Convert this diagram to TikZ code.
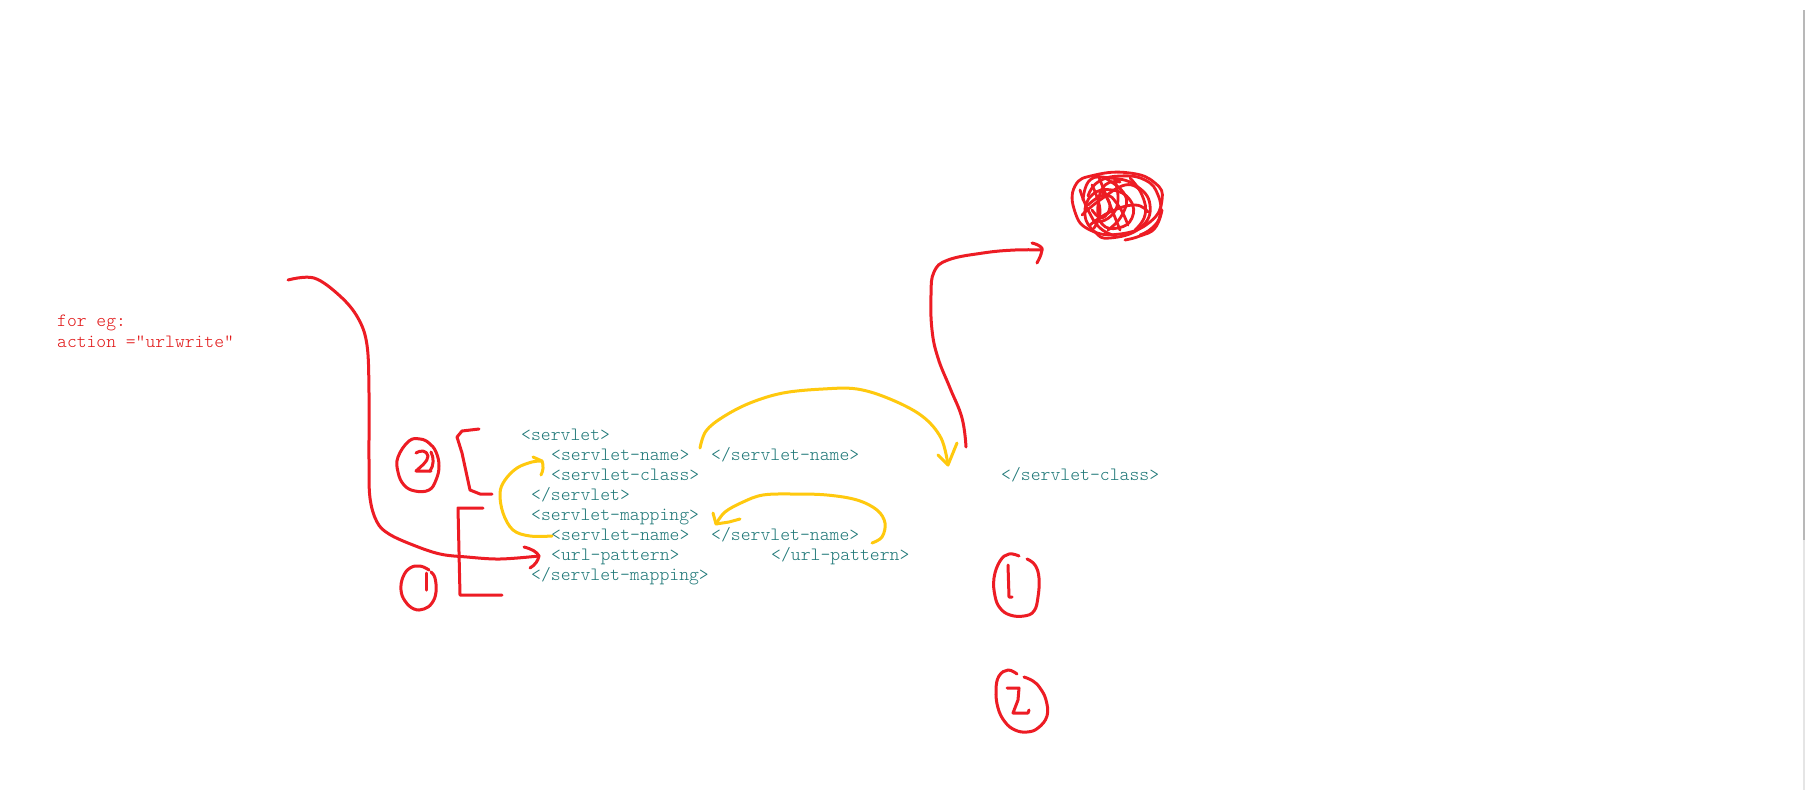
\documentclass[tikz,border=0pt]{standalone}
\usepackage{fontspec}
\newfontfamily\cour{Latin Modern Mono Light}
\definecolor{pred}{RGB}{237,28,36}
\definecolor{pyel}{RGB}{255,201,14}
\definecolor{pteal}{RGB}{28,118,118}
\definecolor{ptxtred}{RGB}{225,20,20}
\tikzset{
  code/.style={text=pteal,font=\cour\fontsize{18.8}{22}\selectfont,anchor=base west,inner sep=0pt},
  note/.style={text=ptxtred,font=\cour\fontsize{18.7}{22}\selectfont,anchor=base west,inner sep=0pt},
  redpen/.style={draw=pred,line width=3pt,line cap=round,line join=round},
  yelpen/.style={draw=pyel,line width=3pt,line cap=round,line join=round},
}
\begin{document}
\begin{tikzpicture}[x=1pt,y=-1pt]
\useasboundingbox (0,0) rectangle (1806,790);
\fill[white] (0,0) rectangle (1806,790);
% right edge grey line
\draw[black!28,line width=2pt] (1803.5,10) -- (1803.5,540);
\draw[black!10,line width=2pt] (1803.5,540) -- (1803.5,790);

% red note
\node[note] (n1) at (57,326.5) {for eg:};
\node[note] (n2) at (57,347) {action ="urlwrite"};

% code text
\node[code] (s1) at (521,440.5) {<servlet>};
\node[code] (s2) at (551,460.5) {<servlet-name>};
\node[code] (s2e) at (711,460.5) {</servlet-name>};
\node[code] (s3) at (551,480.5) {<servlet-class>};
\node[code] (s3e) at (1001,480.5) {</servlet-class>};
\node[code] (s4) at (531,500.5) {</servlet>};
\node[code] (m1) at (531,520.5) {<servlet-mapping>};
\node[code] (m2) at (551,540.5) {<servlet-name>};
\node[code] (m2e) at (711,540.5) {</servlet-name>};
\node[code] (m3) at (551,560.5) {<url-pattern>};
\node[code] (m3e) at (771,560.5) {</url-pattern>};
\node[code] (m4) at (531,580.5) {</servlet-mapping>};

% long red arrow from the note to url-pattern
\coordinate (ra0) at (288,280);
\coordinate (ra1) at (539,556);
\draw[redpen] plot[smooth,tension=0.6] coordinates {(ra0) (314,278) (340,296) (358,318) (367,345) (369,393) (369,460) (370,498) (377,522) (389,534) (413,545) (440,554) (467,557) (500,559) (ra1)};
\draw[redpen] (524,547) .. controls (532,549) and (537,552) .. (ra1) .. controls (538,561) and (535,565) .. (530,568);

% circled 2 (left)
\draw[redpen] plot[smooth cycle,tension=0.7] coordinates {(409,441) (420,439) (429,443) (436,452) (439,466) (436,480) (429,490) (415,491) (404,485) (398,472) (398,457)};
\draw[redpen] (416,453) .. controls (420,450) and (427,450) .. (428,456) .. controls (428,462) and (420,467) .. (416,471) -- (431,471);
\draw[redpen] (431,452) .. controls (434,458) and (434,465) .. (430,471);

% bracket for 2
\draw[redpen] (479,429) -- (462,431) -- (457,437) -- (462,453) -- (470,490) -- (480,494) -- (492,494);

% bracket for 1
\draw[redpen] (483,508) -- (458,508) -- (459,552) -- (460,595) -- (502,595);

% circled 1 (left)
\draw[redpen] plot[smooth,tension=0.7] coordinates {(429,570) (420,566) (410,568) (403,577) (401,590) (405,601) (414,609) (424,609) (432,603) (436,592) (435,578) (431,572)};
\draw[redpen] (426,573) -- (426,590);

% yellow big arc servlet-name -> servlet-class
\coordinate (ya0) at (700,448);
\coordinate (ya1) at (948,465);
\draw[yelpen] plot[smooth,tension=0.6] coordinates {(ya0) (706,431) (723,417) (750,403) (783,393) (823,389) (857,389) (890,399) (922,416) (941,438) (ya1)};
\draw[yelpen] (938,455) -- (ya1) -- (957,443);

% yellow left arc mapping servlet-name -> servlet servlet-name
\coordinate (yb0) at (552,536);
\coordinate (yb1) at (542,461);
\draw[yelpen] plot[smooth,tension=0.6] coordinates {(yb0) (530,536) (513,530) (503,513) (500,493) (505,480) (517,468) (532,462) (yb1)};
\draw[yelpen] (533,457) -- (yb1) .. controls (544,466) and (543,471) .. (541,475);

% yellow lower arc url-pattern -> servlet-name
\coordinate (yc0) at (872,543);
\coordinate (yc1) at (716,524);
\draw[yelpen] plot[smooth,tension=0.6] coordinates {(yc0) (882,537) (885,523) (877,510) (857,500) (827,495) (793,494) (763,495) (743,502) (725,512) (yc1)};
\draw[yelpen] (713,513) -- (yc1) -- (729,522) -- (740,519);

% red arrow up to the scribble
\coordinate (rb0) at (966,447);
\coordinate (rb1) at (1042,250);
\draw[redpen] plot[smooth,tension=0.7] coordinates {(rb0) (962,418) (950,388) (938,358) (932,330) (931,295) (934,272) (948,260) (983,253) (1015,250) (rb1)};
\draw[redpen] (1032,243) .. controls (1040,245) and (1043,248) .. (rb1) .. controls (1041,256) and (1039,259) .. (1037,263);

% scribble
\begin{scope}[redpen,line width=2.8pt]
\draw plot[smooth cycle,tension=0.8] coordinates {(1075,186) (1095,175) (1130,173) (1155,183) (1162,200) (1150,222) (1120,234) (1090,230) (1075,212)};
\draw plot[smooth,tension=0.8] coordinates {(1083,200) (1090,180) (1110,178) (1135,185) (1150,205) (1140,228) (1110,238) (1095,232) (1085,215) (1092,195) (1112,190) (1130,200) (1132,218) (1118,228) (1102,224) (1098,205) (1105,185) (1120,182)};
\draw plot[smooth,tension=0.8] coordinates {(1140,235) (1152,228) (1160,215) (1158,195) (1145,180) (1120,176) (1098,182) (1088,196)};
\draw plot[smooth,tension=0.8] coordinates {(1098,175) (1108,200) (1120,230)};
\draw plot[smooth,tension=0.8] coordinates {(1082,215) (1100,200) (1125,185) (1140,190)};
\draw plot[smooth,tension=0.8] coordinates {(1090,225) (1110,212) (1135,205) (1148,212)};
\draw plot[smooth,tension=0.8] coordinates {(1115,180) (1118,200) (1112,215) (1100,222)};
\draw plot[smooth,tension=0.8] coordinates {(1125,240) (1140,236) (1155,228) (1162,210)};
\draw plot[smooth,tension=0.8] coordinates {(1080,190) (1088,210) (1100,228) (1116,236)};
\draw plot[smooth,tension=0.8] coordinates {(1092,185) (1100,210) (1094,228)};
\draw plot[smooth,tension=0.8] coordinates {(1105,178) (1125,195) (1122,215) (1108,230)};
\draw plot[smooth,tension=0.8] coordinates {(1088,205) (1105,195) (1118,205) (1128,225)};
\draw plot[smooth,tension=0.8] coordinates {(1100,190) (1110,205) (1102,218) (1092,210)};
\draw plot[smooth,tension=0.8] coordinates {(1130,178) (1142,195) (1145,215) (1135,230)};
\end{scope}

% circled 1 (right)
\draw[redpen] plot[smooth,tension=0.7] coordinates {(1019,556) (1009,554) (1000,561) (994,578) (995,596) (1000,608) (1010,615) (1024,616) (1034,611) (1038,597) (1039,578) (1035,565) (1027,559)};
\draw[redpen] (1008,565) -- (1009,597) -- (1012,597);

% circled 2 (right)
\draw[redpen] plot[smooth,tension=0.7] coordinates {(1017,674) (1008,670) (999,676) (996,690) (998,708) (1005,722) (1015,730) (1027,732) (1038,728) (1047,716) (1046,700) (1040,688) (1033,681) (1024,677)};
\draw[redpen] (1007,688) -- (1019,688) -- (1018,700) -- (1013,713) -- (1028,713) -- (1029,710);
\end{tikzpicture}
\end{document}
